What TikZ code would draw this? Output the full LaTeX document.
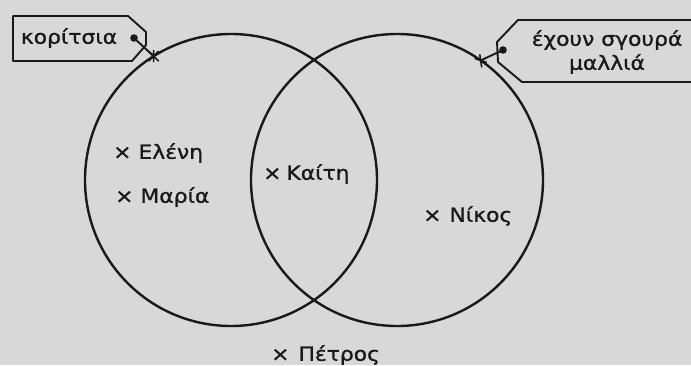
\documentclass[tikz,border=0pt]{standalone}
\usepackage{fontspec}
\setmainfont[FakeStretch=1.12,FakeBold=1.2]{DejaVu Sans}
\usetikzlibrary{positioning}
\definecolor{paperGray}{RGB}{216,216,216}
\definecolor{inkBlack}{RGB}{25,25,25}

\begin{document}
\begin{tikzpicture}[x=1pt,y=-1pt,
    setring/.style={circle,draw=inkBlack,line width=2.4pt,minimum size=292pt,inner sep=0pt,outer sep=0pt},
    tagline/.style={draw=inkBlack,line width=1.9pt,line join=round},
    member/.style={anchor=west,inner sep=0pt,font=\fontsize{19.5}{22}\selectfont,text=inkBlack},
    tagtext/.style={inner sep=0pt,font=\fontsize{19.5}{24}\selectfont,text=inkBlack,align=center},
    knot/.style={line width=1.6pt,draw=inkBlack}]
  % page
  \fill[paperGray] (0,0) rectangle (691,365);
  \useasboundingbox (0,0) rectangle (691,365);
  \clip (0,0) rectangle (691,365);
  % the two sets
  \node[setring] (girls) at (231,180) {};
  \node[setring] (curly) at (397,180) {};
  % members
  \node[member] (eleni) at (113,153) {×\hspace{7pt}Ελένη};
  \node[member] (maria) at (115,197) {×\hspace{7pt}Μαρία};
  \node[member] (kaiti) at (263,174) {×\hspace{5pt}Καίτη};
  \node[member] (nikos) at (423,216) {×\hspace{8pt}Νίκος};
  \node[member] (petros) at (271,355) {×\hspace{9pt}Πέτρος};
  % tag of the left set
  \node[tagtext] (girlsTag) at (69,38) {κορίτσια};
  \draw[tagline] (13,16) -- (128,16) -- (146,32) -- (146,45) -- (132,61) -- (13,61) -- cycle;
  \coordinate (girlsHole) at (134,38);
  \fill[inkBlack] (girlsHole) circle (3.8);
  \draw[tagline] (girlsHole) -- (girls.122);
  \draw[knot,shift={(girls.122)}] (-5,-5) -- (5,5) (-5,5) -- (5,-5) (0,-6) -- (0,6);
  % tag of the right set
  \node[tagtext] (curlyTag) at (607,52) {έχουν σγουρά\\μαλλιά};
  \draw[tagline] (700,20) -- (518,20) -- (497,42) -- (498,62) -- (522,82) -- (700,82);
  \coordinate (curlyHole) at (503,50);
  \fill[inkBlack] (curlyHole) circle (3.8);
  \draw[tagline] (curlyHole) -- (curly.55);
  \draw[knot,shift={(curly.55)}] (-6,-2) -- (6,2) (-1,-6) -- (1,7);
\end{tikzpicture}
\end{document}
